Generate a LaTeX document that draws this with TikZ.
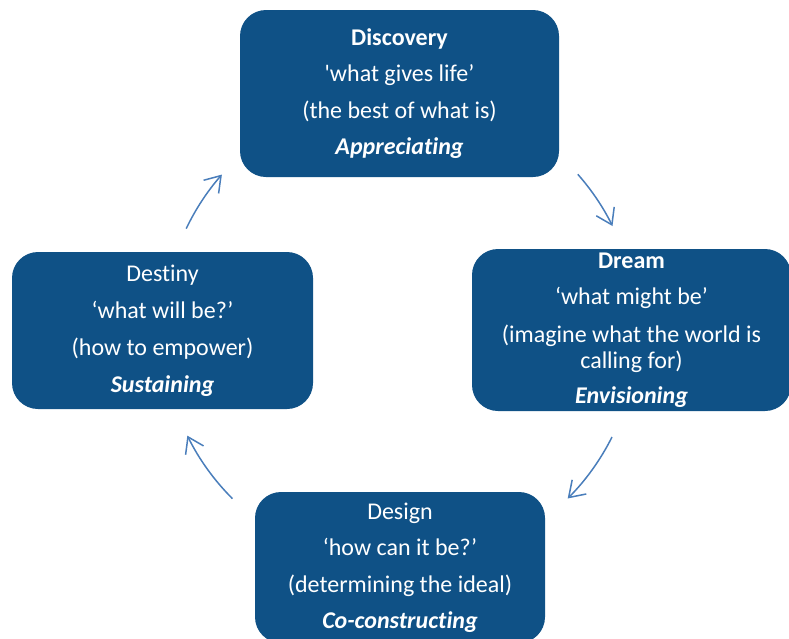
\documentclass[tikz,border=0pt]{standalone}
\usepackage{fontspec}
\setmainfont{Carlito}[Ligatures={TeXOff,NoCommon}]
\usetikzlibrary{arrows.meta}
\definecolor{boxblue}{HTML}{0F5186}
\definecolor{arrblue}{HTML}{4A7EBB}
\begin{document}
\begin{tikzpicture}[x=1pt,y=-1pt,
  box/.style={fill=boxblue, draw=none, rounded corners=26pt, inner sep=0pt, text=white, align=center,
    font=\fontsize{24}{26}\selectfont},
  arr/.style={draw=arrblue, line width=1.5pt, -{Straight Barb[length=15pt,width=20pt]}}]
\useasboundingbox (0,0) rectangle (789,638);
\node[box, minimum width=319pt, minimum height=167pt] (disc) at (399.5,93.5)
  {\textbf{Discovery}\\[10pt] 'what gives life’\\[11pt] (the best of what is)\\[10pt] \textbf{\textit{Appreciating}}};
\node[box, minimum width=319pt, minimum height=162pt] (dream) at (631.5,330)
  {\textbf{Dream}\\[10pt] ‘what might be’\\[12pt] (imagine what the world is\\ calling for)\\[9pt] \textbf{\textit{Envisioning}}};
\node[box, minimum width=301pt, minimum height=157pt] (dest) at (162.5,330.5)
  {Destiny\\[11pt] ‘what will be?’\\[11pt] (how to empower)\\[11pt] \textbf{\textit{Sustaining}}};
\node[box, minimum width=290pt, minimum height=151pt] (design) at (400,567.5)
  {Design\\[10pt] ‘how can it be?’\\[11pt] (determining the ideal)\\[10pt] \textbf{\textit{Co-constructing}}};
\coordinate (a1) at (577.8,174.3);
\coordinate (a2) at (612,437);
\coordinate (a3) at (232.4,498.6);
\coordinate (a4) at (186.2,228.6);
\draw[arr] (a1) arc[start angle=41.4, end angle=26.3, radius=237pt];
\draw[arr] (a2) arc[start angle=-26.6, end angle=-45, radius=237pt];
\draw[arr] (a3) arc[start angle=225, end angle=206.2, radius=237pt];
\draw[arr] (a4) arc[start angle=154.4, end angle=138.7, radius=237pt];
\end{tikzpicture}
\end{document}
